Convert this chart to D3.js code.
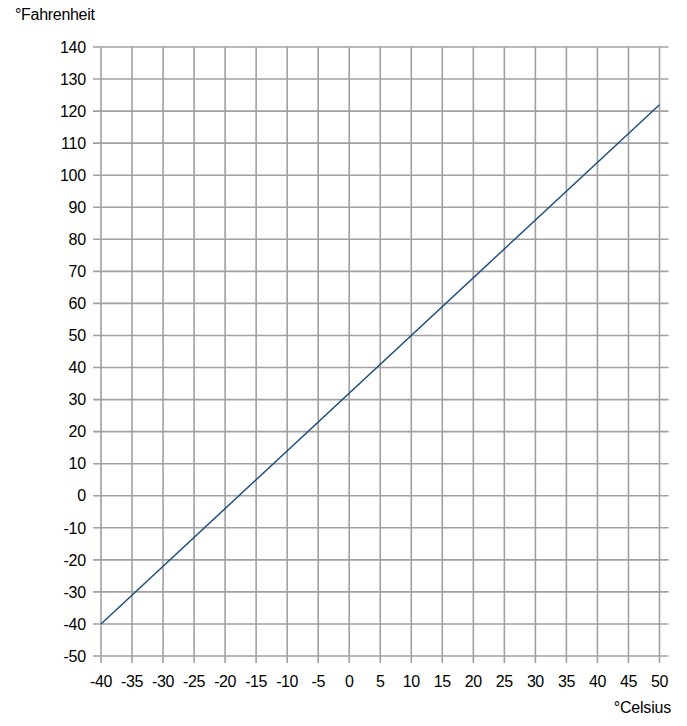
<!DOCTYPE html>
<html>
<head>
<meta charset="utf-8">
<script src="https://cdn.jsdelivr.net/npm/d3@7"></script>
<style>
  body { margin: 0; background: #fff; }
  text { font-family: "Liberation Sans", Arial, sans-serif; fill: #000; }
</style>
</head>
<body>
<script>
// data: Celsius -> Fahrenheit line
const celsius = [-40, 50]
const fahrenheit = [-40, 122]
const xTicks = [-40, -35, -30, -25, -20, -15, -10, -5, 0, 5, 10, 15, 20, 25, 30, 35, 40, 45, 50]
const yTicks = [-50, -40, -30, -20, -10, 0, 10, 20, 30, 40, 50, 60, 70, 80, 90, 100, 110, 120, 130, 140]

let width = 687,
    height = 726

// plot box edges
let plotLeft = 101, plotRight = 659.5, plotTop = 47, plotBottom = 656

let svg = d3.select("body")
    .append("svg")
    .attr("width", width)
    .attr("height", height)

let x = d3.scaleLinear().domain([-40, 50]).range([plotLeft, plotRight])
let y = d3.scaleLinear().domain([-50, 140]).range([plotBottom, plotTop])

// grid lines (they stick out a bit past the plot, like ticks)
svg.append("g")
    .selectAll("line")
    .data(yTicks)
    .enter()
    .append("line")
    .attr("x1", plotLeft - 8)
    .attr("x2", plotRight + 9)
    .attr("y1", d => y(d))
    .attr("y2", d => y(d))
    .attr("stroke", "#a0a0a0")
    .attr("stroke-width", 1.6)

svg.append("g")
    .selectAll("line")
    .data(xTicks)
    .enter()
    .append("line")
    .attr("x1", d => x(d))
    .attr("x2", d => x(d))
    .attr("y1", plotTop)
    .attr("y2", plotBottom + 7)
    .attr("stroke", "#a0a0a0")
    .attr("stroke-width", 1.6)

// tick labels
svg.append("g")
    .selectAll("text")
    .data(yTicks)
    .enter()
    .append("text")
    .attr("x", plotLeft - 15)
    .attr("y", d => y(d))
    .attr("dy", ".36em")
    .attr("text-anchor", "end")
    .attr("font-size", 16)
    .attr("letter-spacing", -0.2)
    .text(d => d)

svg.append("g")
    .selectAll("text")
    .data(xTicks)
    .enter()
    .append("text")
    .attr("x", d => x(d))
    .attr("y", 687)
    .attr("text-anchor", "middle")
    .attr("font-size", 16)
    .attr("letter-spacing", -0.4)
    .text(d => d)

// axis titles
svg.append("text")
    .attr("x", 15)
    .attr("y", 20)
    .attr("font-size", 16)
    .attr("letter-spacing", -0.3)
    .text("°Fahrenheit")

svg.append("text")
    .attr("x", 671)
    .attr("y", 713)
    .attr("text-anchor", "end")
    .attr("font-size", 16)
    .attr("letter-spacing", -0.2)
    .text("°Celsius")

// the conversion line
let line = d3.line()
    .x(d => x(d[0]))
    .y(d => y(d[1]))

svg.append("path")
    .datum(d3.zip(celsius, fahrenheit))
    .attr("d", line)
    .attr("fill", "none")
    .attr("stroke", "#1f4f7f")
    .attr("stroke-width", 1.5)
</script>
</body>
</html>
